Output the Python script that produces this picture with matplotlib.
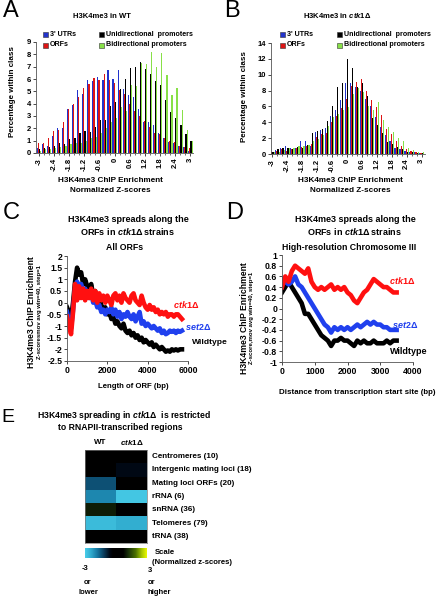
import matplotlib
matplotlib.use('Agg')
import matplotlib.pyplot as plt
from matplotlib.patches import Rectangle
from matplotlib.colors import LinearSegmentedColormap
import numpy as np

plt.rcParams['font.family'] = ['Liberation Sans', 'DejaVu Sans']
plt.rcParams['font.weight'] = 'bold'
plt.rcParams['mathtext.fontset'] = 'custom'
plt.rcParams['mathtext.it'] = 'Liberation Sans:bold:italic'
plt.rcParams['mathtext.rm'] = 'Liberation Sans:bold'
plt.rcParams['mathtext.bf'] = 'Liberation Sans:bold'

W, H = 444, 598

# ---- data ----------------------------------------------------------------
zbins = np.round(np.arange(-3.0, 3.01, 0.2), 1)
series_names = ["3' UTRs", "ORFs", "Unidirectional  promoters", "Bidirectional promoters"]
series_colors = ['#2233cc', '#dd1515', '#000000', '#88e048']

wt_utr = [0.4, 0.7, 0.6, 1.4, 2.0, 2.0, 3.6, 3.9, 5.1, 4.8, 5.9, 5.8, 6.2, 5.9, 6.7, 6.0,
          6.7, 5.2, 4.7, 4.5, 3.6, 2.5, 2.5, 2.3, 1.6, 1.2, 0.9, 0.8, 0.6, 0.5, 0.2]
wt_orf = [0.8, 0.8, 1.2, 1.8, 1.9, 2.5, 3.6, 4.0, 4.5, 5.3, 5.6, 6.1, 5.9, 6.4, 5.9, 5.7,
          5.1, 4.8, 4.0, 3.4, 3.0, 2.6, 2.1, 1.6, 1.5, 1.2, 1.0, 0.9, 0.6, 0.5, 0.4]
wt_uni = [0.3, 0.4, 0.5, 0.6, 0.8, 0.7, 1.1, 1.2, 1.6, 1.8, 1.7, 2.1, 2.7, 2.7, 3.8, 4.1,
          5.2, 6.0, 6.9, 7.0, 7.4, 6.8, 6.4, 5.8, 5.5, 4.3, 3.3, 2.8, 2.3, 1.5, 1.0]
wt_bi = [0.2, 0.3, 0.3, 0.4, 0.5, 0.6, 0.7, 0.8, 0.8, 1.0, 1.2, 1.3, 1.6, 2.0, 2.5, 2.8,
         3.7, 3.4, 5.5, 5.4, 7.3, 7.2, 8.2, 7.0, 8.1, 6.3, 4.7, 5.3, 3.5, 1.9, 1.0]

ctk_utr = [0.3, 0.5, 0.8, 1.0, 0.7, 0.8, 1.7, 1.7, 1.0, 2.8, 3.0, 3.3, 4.8, 5.5, 6.8, 9.0,
           9.0, 8.5, 8.0, 6.9, 6.0, 4.7, 3.4, 2.4, 1.7, 0.8, 0.6, 0.4, 0.3, 0.2, 0.1]
ctk_orf = [0.2, 0.4, 0.6, 0.4, 0.6, 0.8, 0.9, 1.0, 1.2, 2.2, 2.5, 2.6, 4.0, 4.8, 5.8, 7.0,
           8.6, 9.1, 9.4, 8.0, 6.8, 5.9, 4.9, 3.2, 2.5, 1.7, 1.0, 0.6, 0.4, 0.2, 0.1]
ctk_uni = [0.3, 0.6, 0.7, 0.7, 0.6, 0.9, 0.8, 1.1, 2.6, 2.9, 3.1, 4.1, 6.1, 8.5, 8.9, 12.0,
           10.9, 8.4, 8.9, 7.3, 4.5, 3.7, 2.7, 1.5, 1.3, 0.9, 0.6, 0.3, 0.2, 0.1, 0.1]
ctk_bi = [0.2, 0.3, 0.5, 0.7, 0.7, 1.0, 1.0, 1.1, 1.7, 1.9, 2.4, 3.5, 4.7, 5.1, 5.5, 5.9,
          7.6, 8.3, 7.8, 6.0, 5.6, 6.5, 4.3, 3.4, 2.8, 2.0, 1.6, 0.8, 0.5, 0.3, 0.2]

orf_len = np.arange(0, 5800, 100)
c_wt = [-0.2, -0.4, -0.7, 0.0, 0.9, 1.5, 1.2, 1.3, 0.8, 1.0, 0.7, 0.6, 0.8, 0.3, 0.5, 0.1,
        0.2, -0.1, -0.3, -0.2, -0.5, -0.4, -0.7, -0.6, -0.9, -0.8, -1.0, -1.1, -0.9, -1.2,
        -1.3, -1.2, -1.4, -1.3, -1.5, -1.4, -1.6, -1.5, -1.7, -1.6, -1.7, -1.8, -1.7, -1.9,
        -1.8, -1.9, -2.0, -1.9, -2.0, -2.1, -2.05, -2.1, -2.0, -2.05, -2.0, -2.05, -2.0, -2.0]
c_set2 = [-0.4, -0.8, -1.1, -0.3, 0.6, 0.9, 0.7, 0.8, 0.5, 0.6, 0.3, 0.2, 0.4, 0.0, 0.1, -0.2,
          -0.1, -0.4, -0.3, -0.5, -0.3, -0.4, -0.2, -0.5, -0.3, -0.6, -0.4, -0.7, -0.5, -0.6,
          -0.4, -0.6, -0.7, -0.5, -0.8, -0.6, -0.4, -0.9, -0.8, -1.0, -0.9, -1.0, -1.1, -1.0,
          -1.1, -1.2, -1.1, -1.3, -1.2, -1.35, -1.3, -1.2, -1.25, -1.2, -1.3, -1.2, -1.25, -1.2]
c_ctk1 = [-0.6, -1.0, -1.35, -0.4, 0.8, 0.1, 0.7, 0.2, 0.6, 0.1, 0.5, 0.2, 0.6, 0.1, 0.5, 0.0,
          0.4, 0.1, 0.3, 0.0, 0.3, 0.1, -0.1, 0.3, 0.4, 0.1, 0.3, 0.0, 0.4, 0.2, 0.1, 0.0,
          0.3, 0.4, 0.1, 0.0, -0.1, 0.3, 0.0, -0.2, -0.3, -0.1, -0.3, -0.2, -0.4, -0.3, -0.5,
          -0.4, -0.5, -0.4, -0.6, -0.5, -0.5, -0.6, -0.5, -0.5, -0.6, -0.7]

tss_dist = np.arange(0, 3600, 100)
d_wt = [0.3, 0.4, 0.5, 0.4, 0.3, 0.2, 0.1, -0.1, -0.1, -0.2, -0.3, -0.4, -0.5, -0.55, -0.6,
        -0.7, -0.6, -0.6, -0.55, -0.6, -0.6, -0.65, -0.7, -0.6, -0.65, -0.6, -0.65, -0.65,
        -0.6, -0.65, -0.65, -0.65, -0.6, -0.65, -0.6, -0.6]
d_set2 = [0.55, 0.5, 0.45, 0.5, 0.6, 0.45, 0.4, 0.3, 0.2, 0.1, 0.0, -0.1, -0.2, -0.3, -0.35,
          -0.45, -0.35, -0.4, -0.35, -0.4, -0.35, -0.4, -0.35, -0.3, -0.35, -0.3, -0.25, -0.3,
          -0.25, -0.3, -0.3, -0.35, -0.35, -0.4, -0.4, -0.4]
d_ctk1 = [0.4, 0.6, 0.5, 0.7, 0.8, 0.75, 0.7, 0.65, 0.75, 0.5, 0.4, 0.35, 0.4, 0.35, 0.4, 0.45,
          0.35, 0.4, 0.35, 0.4, 0.3, 0.25, 0.15, 0.1, 0.2, 0.3, 0.35, 0.45, 0.55, 0.5, 0.45,
          0.4, 0.4, 0.35, 0.3, 0.3]

regions = ['Centromeres (10)', 'Intergenic mating loci (18)', 'Mating loci ORFs (20)',
           'rRNA (6)', 'snRNA (36)', 'Telomeres (79)', 'tRNA (38)']
heat_wt = [0.0, 0.0, -1.4, -2.0, 1.0, -2.7, 0.0]
heat_ctk1 = [0.0, -0.6, 0.0, -2.9, 0.0, -2.5, 0.0]

# ---- helpers ----------------------------------------------------------------
fig = plt.figure(figsize=(W / 100, H / 100), dpi=100)


def box(l, t, r, b):
    return [l / W, 1 - b / H, (r - l) / W, (b - t) / H]


def ftext(x, y, s, **kw):
    kw.setdefault('ha', 'center')
    kw.setdefault('va', 'center')
    fig.text(x / W, 1 - y / H, s, **kw)


def square(x, y, color):
    fig.patches.append(Rectangle((x / W, 1 - (y + 2.5) / H), 5 / W, 5 / H, transform=fig.transFigure,
                                 facecolor=color, edgecolor='#333333', linewidth=0.4))


def style_axes(ax, fs=5):
    for s in ['top', 'right']:
        ax.spines[s].set_visible(False)
    for s in ['left', 'bottom']:
        ax.spines[s].set_linewidth(0.6)
        ax.spines[s].set_color('#555555')
    ax.tick_params(labelsize=fs, length=2, width=0.5, pad=1.5, colors='black')


def hist_panel(ax, sets, ymax, ystep):
    bw = 0.045
    for k, (vals, col) in enumerate(zip(sets, series_colors)):
        ax.bar(zbins + (k - 1.5) * bw, vals, width=bw, color=col, linewidth=0)
    ax.set_ylim(0, ymax)
    ax.set_yticks(np.arange(0, ymax + 0.1, ystep))
    ax.set_xticks(np.round(np.arange(-3, 3.01, 0.6), 1))
    ax.set_xticklabels(['-3', '-2.4', '-1.8', '-1.2', '-0.6', '0', '0.6', '1.2', '1.8', '2.4', '3'],
                       rotation=90)
    ax.set_xticks(zbins, minor=True)
    ax.tick_params(axis='x', which='minor', length=1.5, width=0.4)
    style_axes(ax, 5.5)


# ---- panel A ----------------------------------------------------------------
axA = fig.add_axes(box(36, 42, 193, 153))
hist_panel(axA, [wt_utr, wt_orf, wt_uni, wt_bi], 9, 1)
axA.set_xlim(-3.12, 3.1)
ftext(3, 11, 'A', fontsize=17, fontweight='normal', ha='left')
ftext(102, 16, 'H3K4me3 in WT', fontsize=5.5)
ftext(12, 92, 'Percentage within class', fontsize=5.8, rotation=90)
ftext(110, 180, 'H3K4me3 ChIP Enrichment', fontsize=5.9)
ftext(110, 190, 'Normalized Z-scores', fontsize=5.9)
for (x, y), name, col in zip([(43, 34), (43, 45), (99, 34), (99, 45)], series_names, series_colors):
    square(x, y, col)
    ftext(x + 7, y, name, fontsize=5.1, ha='left')

# ---- panel B ----------------------------------------------------------------
axB = fig.add_axes(box(271, 43, 425, 154))
hist_panel(axB, [ctk_utr, ctk_orf, ctk_uni, ctk_bi], 14, 2)
axB.set_xlim(-3.06, 3.14)
ftext(224, 11, 'B', fontsize=17, fontweight='normal', ha='left')
ftext(337, 16, r'H3K4me3 in $\mathit{ctk1}$Δ', fontsize=5.5)
ftext(244, 97, 'Percentage within class', fontsize=5.8, rotation=90)
ftext(350, 180, 'H3K4me3 ChIP Enrichment', fontsize=5.9)
ftext(350, 190, 'Normalized Z-scores', fontsize=5.9)
for (x, y), name, col in zip([(280, 34), (280, 45), (337, 34), (337, 45)], series_names, series_colors):
    square(x, y, col)
    ftext(x + 7, y, name, fontsize=5.1, ha='left')

# ---- panel C ----------------------------------------------------------------
axC = fig.add_axes(box(67, 256, 188, 361))
axC.plot(orf_len, c_wt, color='black', lw=3.3)
axC.plot(orf_len, c_set2, color='#2040ee', lw=3.3)
axC.plot(orf_len, c_ctk1, color='#ff1010', lw=3.3)
axC.set_xlim(0, 6000)
axC.set_ylim(-2.5, 2)
axC.set_xticks([0, 2000, 4000, 6000])
axC.set_yticks(np.arange(-2.5, 2.01, 0.5))
axC.set_yticklabels(['-2.5', '-2', '-1.5', '-1', '-0.5', '0', '0.5', '1', '1.5', '2'])
style_axes(axC, 6.2)
ftext(3, 213, 'C', fontsize=17, fontweight='normal', ha='left')
ftext(128, 220, 'H3K4me3 spreads along the', fontsize=6.5)
ftext(128, 231, r'ORFs in $\mathit{ctk1}$Δ strains', fontsize=6.5)
ftext(125, 247, 'All ORFs', fontsize=6.3)
ftext(31, 312, 'H3K4me3 ChIP Enrichment', fontsize=6.2, rotation=90)
ftext(39, 312, 'Z-scoresmov avg win=40, step=1', fontsize=4.3, rotation=90)
ftext(133, 387, 'Length of ORF (bp)', fontsize=5.6)
ftext(173, 305, r'$\mathit{ctk1}$Δ', fontsize=6.5, color='#ff1010', ha='left')
ftext(185, 326, r'$\mathit{set2}$Δ', fontsize=6.5, color='#2040ee', ha='left')
ftext(192, 343, 'Wildtype', fontsize=6.1, ha='left')

# ---- panel D ----------------------------------------------------------------
axD = fig.add_axes(box(282, 255, 413, 362))
axD.plot(tss_dist, d_wt, color='black', lw=3.3)
axD.plot(tss_dist, d_set2, color='#2040ee', lw=3.3)
axD.plot(tss_dist, d_ctk1, color='#ff1010', lw=3.3)
axD.set_xlim(0, 4000)
axD.set_ylim(-1, 1)
axD.set_xticks([0, 1000, 2000, 3000, 4000])
dticks = np.round(np.arange(-1, 1.01, 0.2), 1)
axD.set_yticks(dticks)
axD.set_yticklabels(['%g' % t if t != 0 else '0' for t in dticks])
style_axes(axD, 6.2)
ftext(226, 213, 'D', fontsize=17, fontweight='normal', ha='left')
ftext(355, 220, 'H3K4me3 spreads along the', fontsize=6.5)
ftext(355, 231, r'ORFs in $\mathit{ctk1}$Δ strains', fontsize=6.5)
ftext(349, 247, 'High-resolution Chromosome III', fontsize=6.3)
ftext(244, 318, 'H3K4me3 ChIP Enrichment', fontsize=6.2, rotation=90)
ftext(251, 318, 'Z-score,mov avg win=40, step=1', fontsize=4.3, rotation=90)
ftext(357, 392, 'Distance from transcription start site (bp)', fontsize=5.7)
ftext(389, 280, r'$\mathit{ctk1}$Δ', fontsize=6.5, color='#ff1010', ha='left')
ftext(392, 324, r'$\mathit{set2}$Δ', fontsize=6.5, color='#2040ee', ha='left')
ftext(390, 352, 'Wildtype', fontsize=6.5, ha='left')

# ---- panel E ----------------------------------------------------------------
cmap = LinearSegmentedColormap.from_list('zs', [
    (0.0, '#48cce8'), (0.1, '#2ea8cc'), (0.2, '#1576a0'), (0.3, '#0a3e5e'),
    (0.4, '#000814'), (0.45, '#000000'), (0.62, '#000000'), (0.7, '#18300a'),
    (0.82, '#4a7000'), (0.92, '#a8c800'), (1.0, '#e8f800')])

axE = fig.add_axes(box(85, 450, 147, 543))
axE.imshow(np.column_stack([heat_wt, heat_ctk1]), cmap=cmap, vmin=-3, vmax=3,
           aspect='auto', interpolation='nearest')
axE.set_xticks([])
axE.set_yticks([])
for s in axE.spines.values():
    s.set_linewidth(0.5)
    s.set_color('#777777')
for i, name in enumerate(regions):
    axE.text(1.66, i, name, fontsize=5.8, va='center', ha='left', clip_on=False)
axE.text(0, -1.1, 'WT', fontsize=5.8, ha='center', va='center')
axE.text(1, -1.1, r'$\mathit{ctk1}$Δ', fontsize=5.8, ha='center', va='center')

axS = fig.add_axes(box(85, 548, 147, 558))
axS.imshow(np.linspace(-3, 3, 200)[None, :], cmap=cmap, vmin=-3, vmax=3, aspect='auto')
axS.set_xticks([])
axS.set_yticks([])
for s in axS.spines.values():
    s.set_visible(False)

ftext(1, 418, 'E', fontsize=14, fontweight='normal', ha='left')
ftext(124, 415, r'H3K4me3 spreading in $\mathit{ctk1}$Δ  is restricted', fontsize=6.2)
ftext(120, 427, 'to RNAPII-transcribed regions', fontsize=6.2)
ftext(155, 553, 'Scale', fontsize=5.6, ha='left')
ftext(152, 563, '(Normalized z-scores)', fontsize=5.6, ha='left')
ftext(85, 568, '-3', fontsize=5.5)
ftext(150, 570, '3', fontsize=5.5)
ftext(88, 583, 'or', fontsize=5.5)
ftext(88, 593, 'lower', fontsize=5.5)
ftext(148, 583, 'or', fontsize=5.5, ha='left')
ftext(148, 593, 'higher', fontsize=5.5, ha='left')

fig.savefig('out.png', dpi=100)
